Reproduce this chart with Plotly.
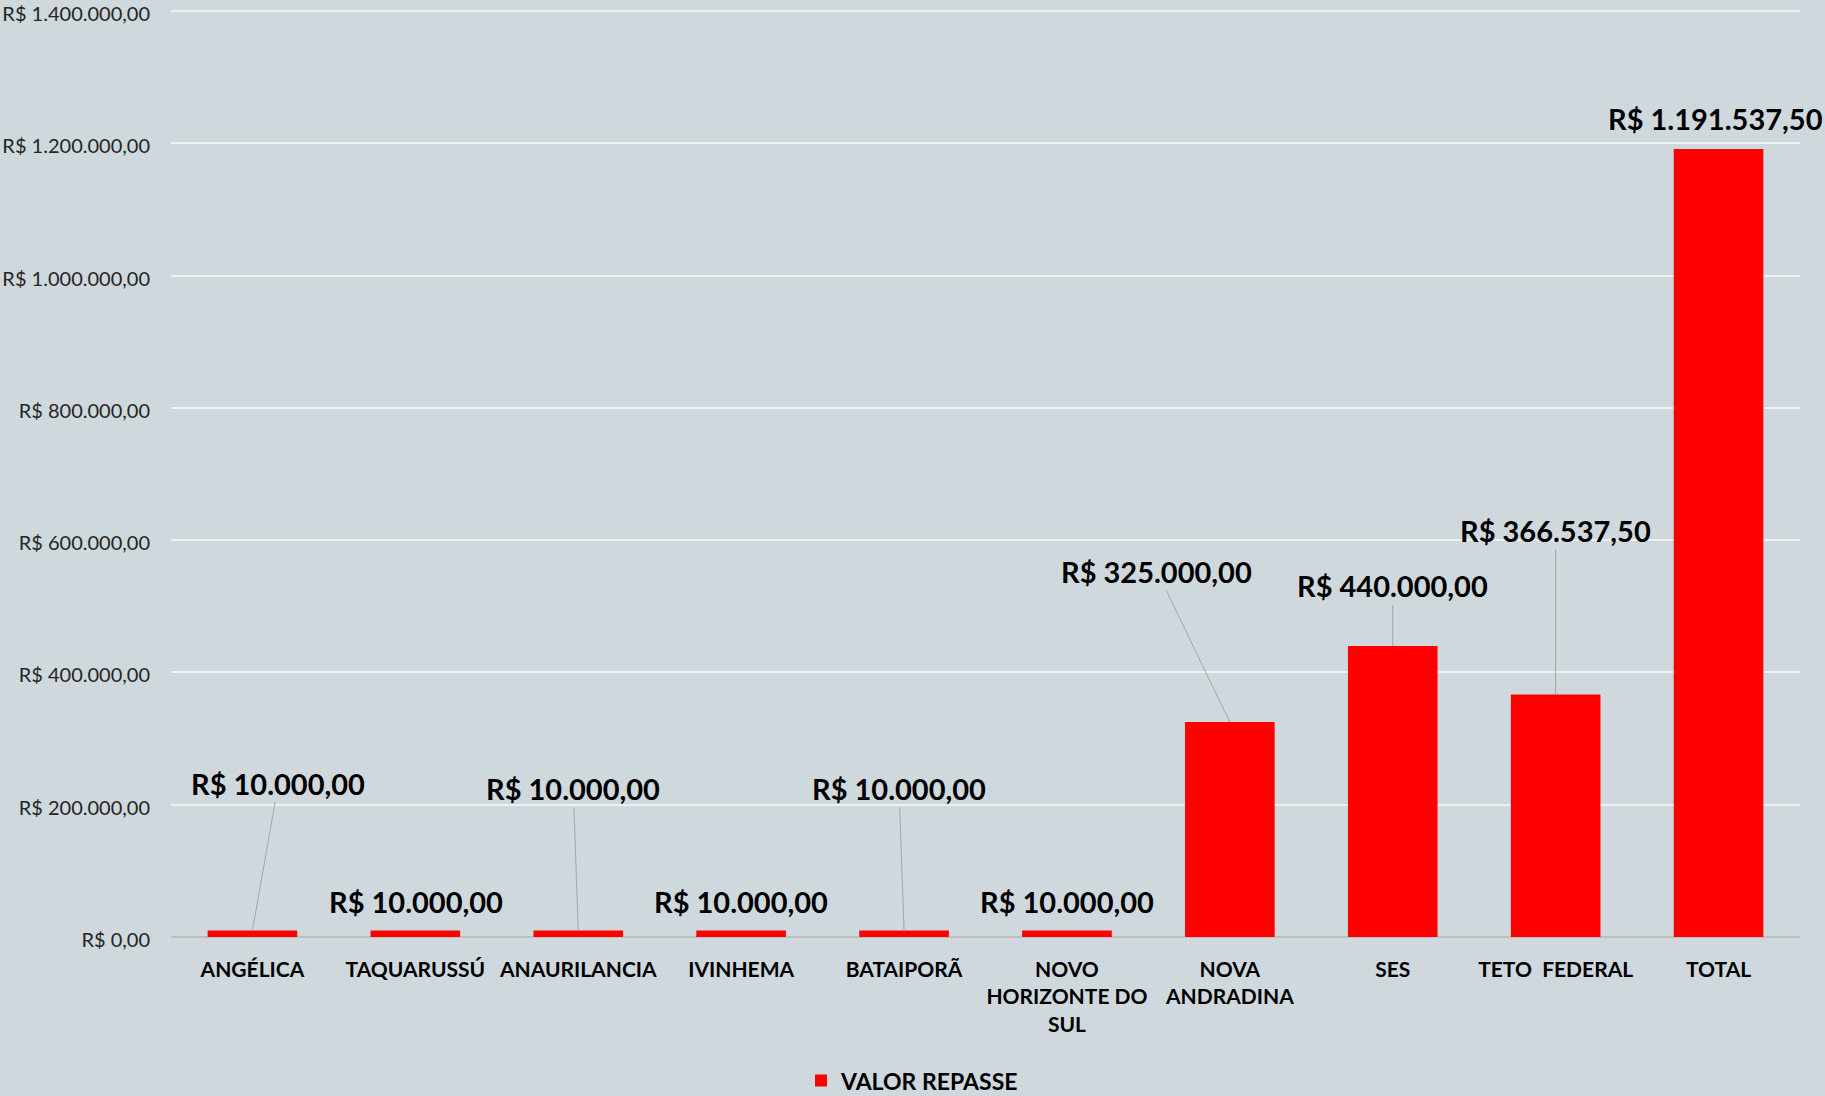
import plotly.graph_objects as go

# dados
municipios = ['ANGÉLICA', 'TAQUARUSSÚ', 'ANAURILANCIA', 'IVINHEMA', 'BATAIPORÃ',
              'NOVO<br>HORIZONTE DO<br>SUL', 'NOVA<br>ANDRADINA', 'SES',
              'TETO  FEDERAL', 'TOTAL']
valor_repasse = [10000, 10000, 10000, 10000, 10000, 10000, 325000, 440000,
                 366537.50, 1191537.50]
rotulos = ['R$ 10.000,00', 'R$ 10.000,00', 'R$ 10.000,00', 'R$ 10.000,00',
           'R$ 10.000,00', 'R$ 10.000,00', 'R$ 325.000,00', 'R$ 440.000,00',
           'R$ 366.537,50', 'R$ 1.191.537,50']
ticks_y = [0, 200000, 400000, 600000, 800000, 1000000, 1200000, 1400000]
ticks_y_texto = ['R$ 0,00', 'R$ 200.000,00', 'R$ 400.000,00', 'R$ 600.000,00',
                 'R$ 800.000,00', 'R$ 1.000.000,00', 'R$ 1.200.000,00',
                 'R$ 1.400.000,00']

# deslocamento dos rotulos (px) e se tem linha de chamada
desloc = [(26, -147), (1, -29), (-5, -142), (0, -29), (-5, -142),
          (0, -29), (-73, -151), (0, -60), (0, -164), (-3, -30)]
linha = [True, False, True, False, True, False, True, True, True, False]

fundo = '#cfd8dc'
fonte = 'Lato'

fig = go.Figure()
fig.add_trace(go.Bar(
    name='VALOR REPASSE',
    x=municipios,
    y=valor_repasse,
    marker=dict(color='#ff0000', line=dict(width=0)),
))

anots = []
for i, (m, v, t) in enumerate(zip(municipios, valor_repasse, rotulos)):
    dx, dy = desloc[i]
    anots.append(dict(
        x=m, y=v, xref='x', yref='y',
        text='<b>' + t + '</b>',
        showarrow=True, ax=dx, ay=dy,
        arrowhead=0, arrowwidth=1, standoff=0,
        arrowcolor='#a6a6a6' if linha[i] else 'rgba(0,0,0,0)',
        font=dict(family=fonte, size=29, color='#000000'),
    ))

fig.update_layout(
    width=1825, height=1096,
    paper_bgcolor=fundo, plot_bgcolor=fundo,
    margin=dict(l=171, r=25, t=5, b=159),
    bargap=0.45,
    font=dict(family=fonte, color='#262626'),
    annotations=anots,
    showlegend=True,
    legend=dict(
        orientation='h', xref='container', yref='container',
        x=0.5, xanchor='center', y=0.014, yanchor='middle',
        font=dict(family=fonte, size=23, color='#000000', weight='bold'),
        bgcolor='rgba(0,0,0,0)',
    ),
    xaxis=dict(
        range=[-0.5, 9.5],
        showgrid=False, showline=False, ticks='', automargin=False,
        tickfont=dict(family=fonte, size=21, color='#000000', weight='bold'),
        ticklabelstandoff=18,
    ),
    yaxis=dict(
        range=[0, 1409075], automargin=False,
        tickvals=ticks_y, ticktext=ticks_y_texto,
        ticklabeloverflow='allow', ticklabelshift=3,
        showgrid=True, gridcolor='#eef1f2', gridwidth=1.5,
        zeroline=True, zerolinecolor='#bfbfbf', zerolinewidth=2,
        tickfont=dict(family=fonte, size=20, color='#262626'),
        ticklabelstandoff=20,
    ),
)

fig.write_html('out.html', config={'displayModeBar': False},
               post_script="document.body.style.margin='0';document.body.style.overflow='hidden';")
